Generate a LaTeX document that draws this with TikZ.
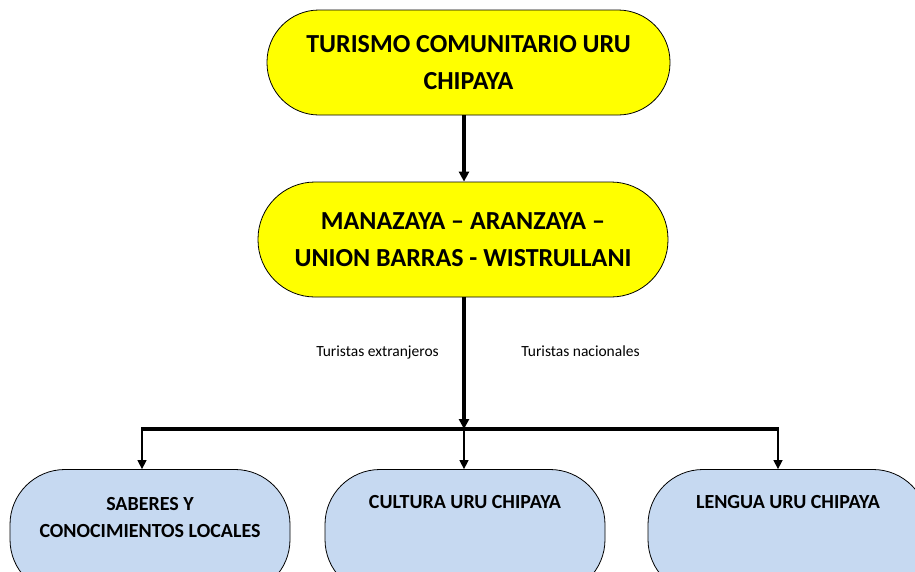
\documentclass[tikz,border=0pt]{standalone}
\usepackage{fontspec}
\setmainfont{Carlito}
\usetikzlibrary{arrows.meta}
\definecolor{boxyellow}{HTML}{FFFF00}
\definecolor{boxblue}{HTML}{C6D9F1}
\tikzset{
  ybox/.style={draw=black, line width=0.8pt, fill=boxyellow, rounded corners=52pt,
    inner sep=0pt, align=center, font=\fontsize{26}{37}\selectfont\bfseries},
  bbox/.style={draw=black, line width=0.8pt, fill=boxblue, rounded corners=55pt,
    minimum width=280pt, minimum height=125pt, inner sep=0pt},
  btext/.style={inner sep=0pt, align=center, anchor=north,
    font=\fontsize{20}{27}\selectfont\bfseries},
  lbl/.style={inner sep=0pt, anchor=base, font=\fontsize{15.5}{18}\selectfont},
  thickarrow/.style={line width=3.5pt, -{Triangle[length=10pt,width=10pt]}},
  thinarrow/.style={line width=1.4pt, -{Triangle[length=9pt,width=9pt]}},
  thickline/.style={line width=3.5pt}
}
\begin{document}
\begin{tikzpicture}[x=1pt,y=-1pt]
\useasboundingbox (0,0) rectangle (915,571);
\clip (0,0) rectangle (915,571);
\fill[white] (0,0) rectangle (915,571);

\node[ybox, minimum width=403pt, minimum height=105pt] (top) at (468.5,62.5)
  {TURISMO COMUNITARIO URU\\CHIPAYA};
\node[ybox, minimum width=410pt, minimum height=115pt, rounded corners=57pt] (mid) at (463,239.5)
  {MANAZAYA -- ARANZAYA --\\UNION BARRAS - WISTRULLANI};

\node[bbox] (b1) at (150,532) {};
\node[bbox] (b2) at (465,532) {};
\node[bbox] (b3) at (788,532) {};

\node[btext] (b1t) at (150,497) {SABERES Y\\CONOCIMIENTOS LOCALES};
\node[btext] (b2t) at (465,495) {CULTURA URU CHIPAYA};
\node[btext] (b3t) at (788,495) {LENGUA URU CHIPAYA};

\node[lbl] (l1) at (377.5,356) {Turistas extranjeros};
\node[lbl] (l2) at (580.5,356) {Turistas nacionales};

\coordinate (fork) at (464,429);
\coordinate (fl) at (142,429);
\coordinate (fr) at (778,429);

\draw[thickarrow] (fork |- top.south) -- (fork |- mid.north);
\draw[thickarrow] (fork |- mid.south) -- (fork);
\draw[thickline] ([xshift=-0.7pt]fl) -- ([xshift=0.7pt]fr);
\draw[thinarrow] (fl) -- (fl |- b1.north);
\draw[thinarrow] (fork) -- (fork |- b2.north);
\draw[thinarrow] (fr) -- (fr |- b3.north);
\end{tikzpicture}
\end{document}
